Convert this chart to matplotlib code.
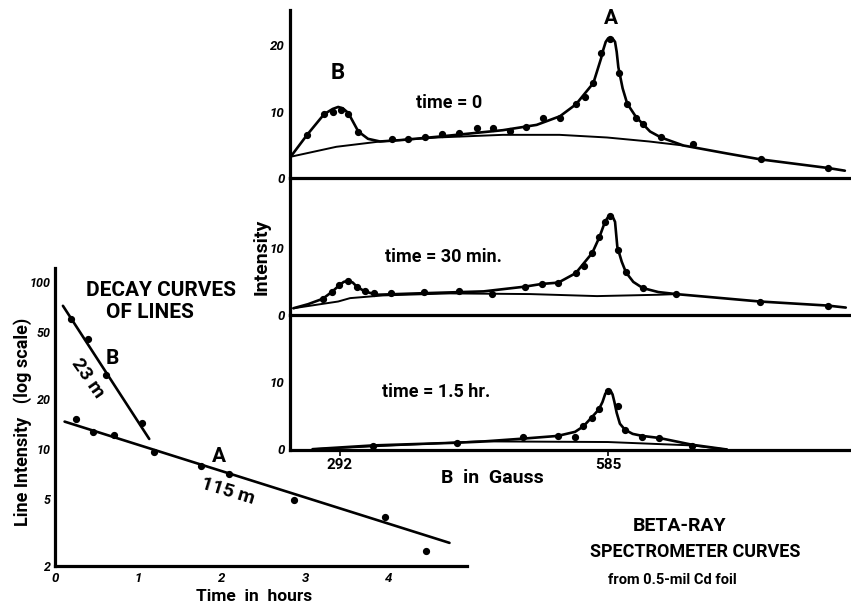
import matplotlib
matplotlib.use("Agg")
import matplotlib.pyplot as plt

W, H = 851, 606
plt.rcParams['font.family'] = ['Roboto', 'DejaVu Sans']

# ---------------- decay curves data (hours, line intensity) ----------------
decay_B_t = [0.19, 0.40, 0.61, 1.04]
decay_B_v = [60.0, 45.8, 27.6, 14.3]
decay_B_fit_t = [0.095, 1.13]
decay_B_fit_v = [71.9, 11.5]
decay_A_t = [0.25, 0.46, 0.71, 1.19, 1.75, 2.09, 2.87, 3.96, 4.45]
decay_A_v = [15.2, 12.6, 12.1, 9.6, 7.9, 7.1, 4.95, 3.94, 2.47]
decay_A_fit_t = [0.115, 4.73]
decay_A_fit_v = [14.6, 2.75]
decay_yticks = [2, 5, 10, 20, 50, 100]
decay_xticks = [0, 1, 2, 3, 4]

# ---------------- spectrometer data (Gauss, intensity) ----------------
top_pts_g = [256, 274.5, 284, 293, 301, 312, 348.5, 366.7, 385, 404, 422, 441.5, 459,
             478, 495, 514, 532, 550, 560, 569, 577.4, 587.2, 597.4, 606, 615.6, 623.6,
             643, 678, 752, 826]
top_pts_i = [6.5, 9.7, 10.0, 10.3, 9.7, 7.0, 5.8, 5.8, 6.2, 6.7, 6.8, 7.6, 7.6,
             7.1, 7.7, 9.1, 9.1, 11.1, 12.2, 14.3, 18.8, 20.9, 15.8, 11.1, 9.1, 8.1,
             6.1, 5.1, 2.8, 1.5]
top_fit_g = [238, 256, 274.5, 284, 290, 295, 301, 312, 322.6, 335.7, 357.6, 397.7, 434,
             470, 507, 532.5, 550, 569, 577.4, 580, 582.5, 585, 587.2, 590, 592.7, 594.5,
             596.3, 601, 606, 615.6, 631, 643, 667.3, 714.8, 752, 826, 844]
top_fit_i = [3.2, 6.5, 9.6, 10.4, 10.7, 10.5, 9.8, 7.0, 5.9, 5.5, 5.7, 6.2, 6.7,
             7.2, 8.0, 9.3, 11.1, 14.3, 18.0, 19.4, 20.5, 21.0, 21.1, 21.0, 20.5, 19.0,
             16.7, 13.5, 11.2, 9.2, 7.0, 6.1, 4.9, 3.7, 2.8, 1.5, 1.1]
top_bg_g = [238, 288, 336, 398, 470, 532, 584, 630, 667]
top_bg_i = [3.2, 4.7, 5.5, 6.1, 6.5, 6.5, 6.1, 5.5, 4.9]

mid_pts_g = [273.1, 282.9, 291.2, 301.1, 310.3, 319.3, 329.2, 347.8, 384.2, 422.1, 457.9,
             494.3, 512.5, 530.7, 549.7, 558.8, 567.8, 575.5, 581.7, 587.2, 595.6, 604.7,
             622.9, 659.3, 751.2, 825.2]
mid_pts_i = [2.4, 3.4, 4.4, 5.0, 4.2, 3.6, 3.2, 3.2, 3.4, 3.6, 3.1,
             4.2, 4.6, 4.8, 6.2, 7.3, 9.2, 11.5, 13.8, 14.6, 9.6, 6.3,
             4.0, 3.1, 2.0, 1.4]
mid_fit_g = [241, 257, 273, 282.9, 291.2, 296, 301, 306, 310.3, 319, 332, 376, 449, 494,
             512.5, 530.7, 549.7, 567.8, 575.5, 581.7, 585, 587.2, 590, 592.7, 595.2, 600,
             604.7, 612.7, 622.9, 640, 659.3, 692.9, 751, 825, 845]
mid_fit_i = [1.0, 1.6, 2.4, 3.4, 4.4, 4.9, 5.1, 4.8, 4.2, 3.5, 3.0, 3.2, 3.5, 4.2,
             4.6, 4.8, 6.2, 9.2, 11.5, 13.8, 14.5, 14.7, 14.6, 13.8, 10.1, 7.9,
             6.3, 4.9, 4.0, 3.4, 3.1, 2.7, 2.0, 1.4, 1.1]
mid_bg_g = [241, 290, 303, 339, 412, 500, 573, 640, 660]
mid_bg_i = [1.0, 2.0, 2.5, 2.9, 3.2, 3.1, 2.8, 3.0, 3.1]

bot_pts_g = [327.8, 420.2, 492.4, 530.0, 548.9, 558.0, 567.2, 575.2, 585.3, 596.3, 603.6,
             622.5, 641.1, 677.2]
bot_pts_i = [0.56, 1.0, 1.8, 2.0, 1.8, 3.4, 4.7, 5.9, 8.6, 6.4, 2.8,
             1.9, 1.65, 0.56]
bot_fit_g = [262, 328, 420, 445, 492, 530, 549, 558, 567, 575, 579, 582, 585.3, 588, 590,
             592, 594.5, 598, 603.6, 612, 622.5, 641, 677, 715]
bot_fit_i = [0.05, 0.6, 1.0, 1.15, 1.6, 2.0, 2.6, 3.4, 4.7, 5.9, 7.0, 8.2, 8.8, 8.6, 8.1,
             7.0, 5.4, 3.8, 2.9, 2.3, 2.0, 1.7, 0.7, 0.0]
bot_bg_g = [262, 445, 585, 677, 715]
bot_bg_i = [0.05, 1.2, 1.1, 0.6, 0.0]

spec_xticks = [292, 585]
spec_yticks_top = [0, 10, 20]
spec_yticks = [0, 10]


def fx(x):
    return x / W


def fy(y):
    return 1 - y / H


fig = plt.figure(figsize=(W / 100, H / 100), dpi=100)
fig.patch.set_facecolor('white')

K = 'black'
SPINE_LW = 2.3
FIT_LW = 1.9
BG_LW = 1.4
MS = 4.2

# ---------------- spectrometer axes ----------------
g_left, g_right = 237.3, 850.7
panels = [
    (10, 178, 25.3, spec_yticks_top, top_pts_g, top_pts_i, top_fit_g, top_fit_i, top_bg_g, top_bg_i),
    (178, 315, 20.3, spec_yticks, mid_pts_g, mid_pts_i, mid_fit_g, mid_fit_i, mid_bg_g, mid_bg_i),
    (315, 449.5, 19.8, spec_yticks, bot_pts_g, bot_pts_i, bot_fit_g, bot_fit_i, bot_bg_g, bot_bg_i),
]
for i, (ytop, ybot, ymax, yt, pg, pi, fg, fi, bg, bi) in enumerate(panels):
    ax = fig.add_axes([fx(290), fy(ybot), fx(851) - fx(290), (ybot - ytop) / H])
    ax.patch.set_alpha(0)
    ax.set_xlim(g_left, g_right)
    ax.set_ylim(0, ymax)
    for s in ['top', 'right']:
        ax.spines[s].set_visible(False)
    for s in ['left', 'bottom']:
        ax.spines[s].set_linewidth(SPINE_LW)
        ax.spines[s].set_color(K)
    ax.plot(bg, bi, color=K, lw=BG_LW, solid_capstyle='round', clip_on=False)
    ax.plot(fg, fi, color=K, lw=FIT_LW, solid_capstyle='round', solid_joinstyle='round', clip_on=False)
    ax.plot(pg, pi, 'o', color=K, ms=MS, clip_on=False)
    ax.set_yticks(yt)
    ax.set_yticklabels([str(v) for v in yt], fontsize=9.5, fontweight='bold', style='italic')
    ax.tick_params(axis='y', length=0, pad=4)
    if i == 2:
        ax.set_xticks(spec_xticks)
        ax.set_xticklabels([str(v) for v in spec_xticks], fontsize=11, fontweight='bold')
        ax.tick_params(axis='x', length=4, width=1.2, pad=2, direction='out')
    else:
        ax.set_xticks([])

# ---------------- decay axes ----------------
dax = fig.add_axes([fx(55), fy(566), fx(467) - fx(55), (566 - 268) / H])
dax.patch.set_alpha(0)
dax.set_yscale('log')
dax.set_xlim(0.036, 4.94)
dax.set_ylim(2, 121)
for s in ['top', 'right']:
    dax.spines[s].set_visible(False)
for s in ['left', 'bottom']:
    dax.spines[s].set_linewidth(SPINE_LW)
    dax.spines[s].set_color(K)
dax.plot(decay_B_fit_t, decay_B_fit_v, color=K, lw=FIT_LW, solid_capstyle='round')
dax.plot(decay_A_fit_t, decay_A_fit_v, color=K, lw=FIT_LW, solid_capstyle='round')
dax.plot(decay_B_t, decay_B_v, 'o', color=K, ms=MS)
dax.plot(decay_A_t, decay_A_v, 'o', color=K, ms=MS)
dax.set_yticks(decay_yticks)
dax.set_yticklabels([str(v) for v in decay_yticks], fontsize=9, fontweight='bold', style='italic')
dax.yaxis.set_minor_locator(matplotlib.ticker.NullLocator())
dax.set_xticks(decay_xticks)
dax.set_xticklabels([str(v) for v in decay_xticks], fontsize=9.5, fontweight='bold', style='italic')
dax.tick_params(axis='y', length=0, pad=3)
dax.tick_params(axis='x', length=0, pad=4)


# ---------------- texts ----------------
def txt(x, y, s, size, weight='bold', rot=0, ha='center', va='center', **kw):
    fig.text(fx(x), fy(y), s, fontsize=size, fontweight=weight, rotation=rot,
             ha=ha, va=va, color=K, rotation_mode='anchor', **kw)


txt(161, 290, 'DECAY CURVES', 15)
txt(150, 313, 'OF LINES', 15)
txt(112, 358, 'B', 15)
txt(88, 378, '23 m', 14, rot=-55)
txt(219, 457, 'A', 15)
txt(228, 491, '115 m', 14, rot=-17)
txt(23, 422, 'Line Intensity   (log scale)', 13, rot=90)
txt(254, 596.5, 'Time  in  hours', 12.5)

txt(611, 18, 'A', 15)
txt(338, 73, 'B', 16)
txt(449, 103, 'time = 0', 13, weight='semibold')
txt(443, 257, 'time = 30 min.', 13, weight='semibold')
txt(436, 392, 'time = 1.5 hr.', 13, weight='semibold')
txt(262, 257, 'Intensity', 14, rot=90)
txt(492, 478, 'B  in  Gauss', 14)

txt(680, 526, 'BETA-RAY', 14)
txt(695, 552, 'SPECTROMETER CURVES', 13)
txt(672, 580, 'from 0.5-mil Cd foil', 10.5)

fig.savefig('out.png', dpi=100, facecolor='white')
